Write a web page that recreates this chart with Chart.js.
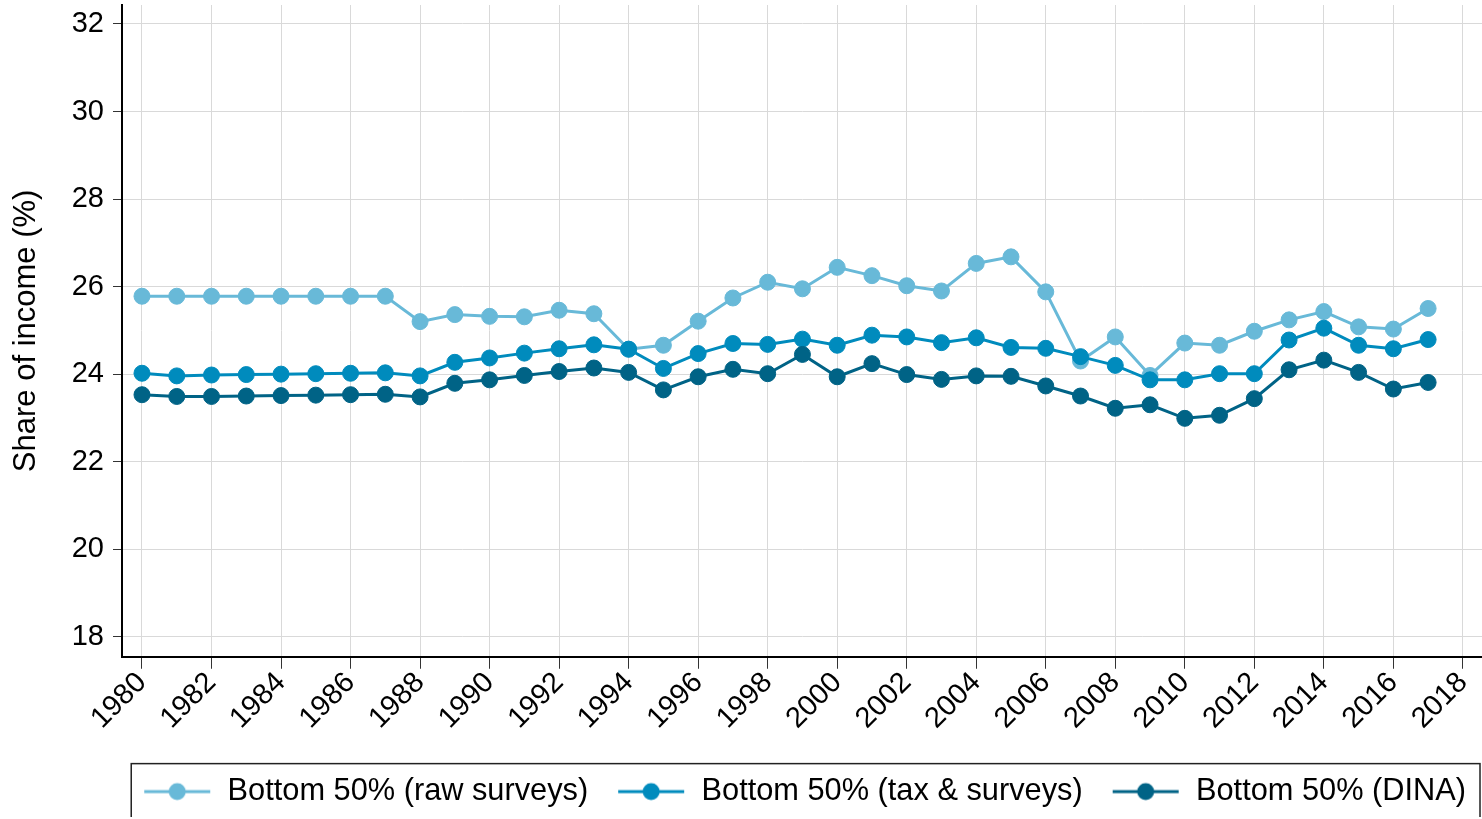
<!DOCTYPE html>
<html>
<head>
<meta charset="utf-8">
<title>Bottom 50% share of income</title>
<script src="https://cdn.jsdelivr.net/npm/chart.js@4"></script>
<style>
    html, body { margin: 0; padding: 0; background: #fff; overflow: hidden; }
    #contenedor { position: relative; width: 1482px; height: 817px; }
</style>
</head>
<body>
<div id="contenedor"><canvas id="lineChart"></canvas></div>
<script>
// Datos
var years = [1980, 1981, 1982, 1983, 1984, 1985, 1986, 1987, 1988, 1989,
             1990, 1991, 1992, 1993, 1994, 1995, 1996, 1997, 1998, 1999,
             2000, 2001, 2002, 2003, 2004, 2005, 2006, 2007, 2008, 2009,
             2010, 2011, 2012, 2013, 2014, 2015, 2016, 2017];

var rawSurveys = [25.78, 25.78, 25.78, 25.78, 25.78, 25.78, 25.78, 25.78, 25.20, 25.36,
                  25.32, 25.31, 25.46, 25.38, 24.57, 24.66, 25.21, 25.74, 26.10, 25.95,
                  26.44, 26.25, 26.02, 25.90, 26.53, 26.68, 25.88, 24.30, 24.85, 23.97,
                  24.71, 24.66, 24.98, 25.24, 25.43, 25.08, 25.03, 25.50];

var taxSurveys = [24.02, 23.96, 23.98, 23.99, 24.00, 24.01, 24.02, 24.03, 23.96, 24.27,
                  24.37, 24.48, 24.58, 24.67, 24.57, 24.13, 24.47, 24.70, 24.68, 24.80,
                  24.66, 24.89, 24.85, 24.72, 24.83, 24.61, 24.59, 24.40, 24.20, 23.87,
                  23.87, 24.01, 24.01, 24.78, 25.05, 24.66, 24.58, 24.79];

var dina = [23.53, 23.49, 23.49, 23.50, 23.51, 23.52, 23.53, 23.54, 23.48, 23.79,
            23.87, 23.97, 24.06, 24.14, 24.04, 23.64, 23.94, 24.11, 24.01, 24.45,
            23.94, 24.24, 23.99, 23.88, 23.96, 23.95, 23.73, 23.50, 23.22, 23.30,
            22.99, 23.06, 23.44, 24.10, 24.32, 24.04, 23.66, 23.81];

var seriesNames = ['Bottom 50% (raw surveys)', 'Bottom 50% (tax & surveys)', 'Bottom 50% (DINA)'];
var seriesColors = ['rgb(104,185,216)', 'rgb(0,139,189)', 'rgb(0,99,134)'];

var fuente = "'Liberation Sans', Arial, sans-serif";
var tamLeyenda = 30.75;

function toPoints(values) {
    var puntos = [];
    for (var i = 0; i < years.length; i++) {
        puntos.push({ x: years[i], y: values[i] });
    }
    return puntos;
}

// Simbolo de la leyenda: linea con circulo en el medio
function crearMarcador(color) {
    var c = document.createElement('canvas');
    c.width = 82;
    c.height = 22;
    var ctx = c.getContext('2d');
    ctx.strokeStyle = color;
    ctx.lineWidth = 3;
    ctx.beginPath();
    ctx.moveTo(14, 11);
    ctx.lineTo(80, 11);
    ctx.stroke();
    ctx.fillStyle = color;
    ctx.beginPath();
    ctx.arc(47, 11, 8.5, 0, Math.PI * 2);
    ctx.fill();
    return c;
}

var marcadores = seriesColors.map(crearMarcador);

// Marco alrededor de la leyenda
var marcoLeyenda = {
    id: 'marcoLeyenda',
    afterDraw: function(chart) {
        var hb = chart.legend.legendHitBoxes;
        if (!hb || !hb.length) return;
        var first = hb[0];
        var last = hb[hb.length - 1];
        var left = first.left + 1;
        var right = last.left + last.width + 14;
        var mid = first.top + tamLeyenda / 2;
        var ctx = chart.ctx;
        ctx.save();
        ctx.strokeStyle = '#222';
        ctx.lineWidth = 1.5;
        ctx.strokeRect(left, mid - 28, right - left, 58);
        ctx.restore();
    }
};

function createLineChart() {
    var datasets = [];
    var valores = [rawSurveys, taxSurveys, dina];
    for (var i = 0; i < valores.length; i++) {
        datasets.push({
            label: seriesNames[i],
            data: toPoints(valores[i]),
            borderColor: seriesColors[i],
            backgroundColor: seriesColors[i],
            pointBackgroundColor: seriesColors[i],
            pointBorderColor: seriesColors[i],
            borderWidth: 3,
            pointRadius: 8,
            pointBorderWidth: 1,
            tension: 0,
            order: 3 - i
        });
    }

    var config = {
        type: 'line',
        data: { datasets: datasets },
        plugins: [marcoLeyenda],
        options: {
            responsive: true,
            maintainAspectRatio: false,
            animation: false,
            layout: { autoPadding: false, padding: { top: 5, right: 0, bottom: 0, left: 0 } },
            plugins: {
                tooltip: { enabled: false },
                legend: {
                    position: 'bottom',
                    align: 'end',
                    labels: {
                        color: '#000',
                        font: { family: fuente, size: tamLeyenda },
                        padding: 16,
                        usePointStyle: true,
                        pointStyleWidth: 82,
                        sort: function(a, b) { return a.datasetIndex - b.datasetIndex; },
                        generateLabels: function(chart) {
                            var items = Chart.defaults.plugins.legend.labels.generateLabels(chart);
                            items.forEach(function(it) {
                                it.pointStyle = marcadores[it.datasetIndex];
                            });
                            return items;
                        }
                    }
                }
            },
            scales: {
                x: {
                    type: 'linear',
                    min: 1979.425,
                    max: 2018.55,
                    afterFit: function(scale) {
                        scale.height = 103.5;
                        scale.paddingLeft = 0;
                        scale.paddingRight = 0;
                    },
                    grid: {
                        color: '#d9d9d9',
                        lineWidth: 1,
                        tickColor: '#333',
                        tickLength: 12
                    },
                    border: { color: '#000', width: 2 },
                    ticks: {
                        stepSize: 2,
                        includeBounds: false,
                        autoSkip: false,
                        minRotation: 45,
                        maxRotation: 45,
                        padding: -3,
                        color: '#000',
                        font: { family: fuente, size: 29 },
                        callback: function(value) { return String(value); }
                    }
                },
                y: {
                    min: 17.543,
                    max: 32.434,
                    afterFit: function(scale) {
                        scale.width = 122;
                        scale.paddingTop = 0;
                        scale.paddingBottom = 0;
                    },
                    grid: {
                        color: '#d9d9d9',
                        lineWidth: 1,
                        tickColor: '#333',
                        tickLength: 9
                    },
                    border: { color: '#000', width: 2 },
                    ticks: {
                        stepSize: 2,
                        includeBounds: false,
                        padding: 9,
                        color: '#000',
                        font: { family: fuente, size: 29 }
                    },
                    title: {
                        display: true,
                        text: 'Share of income (%)',
                        color: '#000',
                        font: { family: fuente, size: 31 },
                        padding: { top: 8, bottom: 0 }
                    }
                }
            }
        }
    };

    var myChart = new Chart(document.getElementById('lineChart'), config);
}

createLineChart();
</script>
</body>
</html>
